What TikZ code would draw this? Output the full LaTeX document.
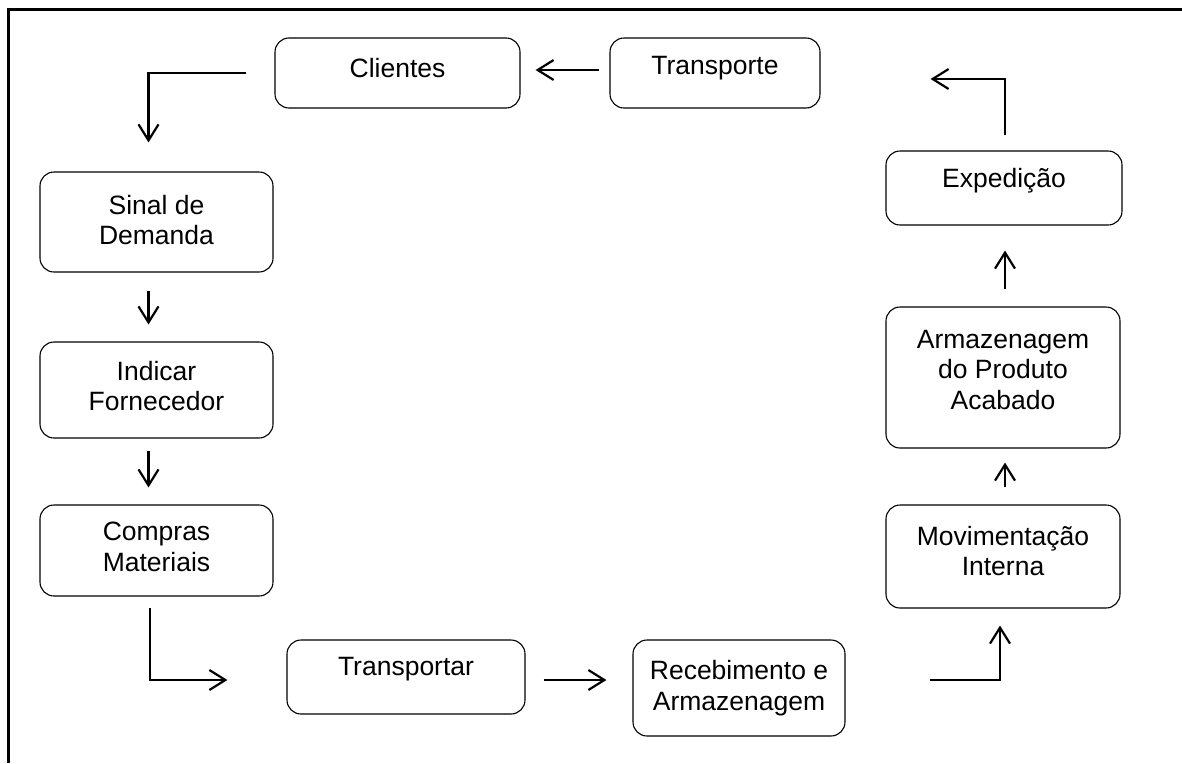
\documentclass[tikz,border=0pt]{standalone}
\usepackage{fontspec}
\setmainfont{Liberation Sans}
\usetikzlibrary{arrows.meta,calc}
\begin{document}
\begin{tikzpicture}[x=1pt,y=-1pt,
  box/.style={draw,line width=1.1pt,rounded corners=14pt,inner sep=0pt},
  txt/.style={align=center,inner sep=0pt,font=\fontsize{26.5}{30.5}\selectfont},
  arr/.style={line width=2.2pt,-{Straight Barb[length=16pt,width=20pt,line width=2.2pt]}}]
\useasboundingbox (0,0) rectangle (1182,763);
% frame
\draw[line width=3pt] (8,763) -- (8,9) -- (1182,9);
% boxes
\node[box,minimum width=245pt,minimum height=70pt] (cli) at (397.5,73) {};
\node[box,minimum width=210pt,minimum height=70pt] (tra) at (715,73) {};
\node[box,minimum width=233pt,minimum height=100pt] (sin) at (156.5,222) {};
\node[box,minimum width=233pt,minimum height=96pt] (ind) at (156.5,390) {};
\node[box,minimum width=233pt,minimum height=91pt] (com) at (156.5,550.5) {};
\node[box,minimum width=238pt,minimum height=74pt] (trp) at (406,677) {};
\node[box,minimum width=212pt,minimum height=96pt] (rec) at (739,688) {};
\node[box,minimum width=234pt,minimum height=103pt] (mov) at (1003,556.5) {};
\node[box,minimum width=234pt,minimum height=141pt] (arm) at (1003,377.5) {};
\node[box,minimum width=236pt,minimum height=74pt] (exp) at (1004,188) {};
% texts
\node[txt] (cliT) at (397.5,68) {Clientes};
\node[txt] (traT) at (715,68) {Transporte};
\node[txt] (sinT) at (156.5,220) {Sinal de\\Demanda};
\node[txt] (indT) at (156.5,386) {Indicar\\Fornecedor};
\node[txt] (comT) at (156.5,547) {Compras\\Materiais};
\node[txt] (trpT) at (406,669) {Transportar};
\node[txt] (recT) at (739,688) {Recebimento e\\Armazenagem};
\node[txt] (movT) at (1003,551) {Movimentação\\Interna};
\node[txt] (armT) at (1003,370) {Armazenagem\\do Produto\\Acabado};
\node[txt] (expT) at (1004,181) {Expedição};
% connectors
\draw[arr] ($(tra.west)+(-10,-3)$) -- ($(cli.east)+(15,-3)$);
\draw[arr] ($(cli.west)+(-28,0)$) -| ($(sin.north)+(-8,-29)$);
\draw[arr] ($(sin.south)+(-8,18)$) -- ($(ind.north)+(-8,-17)$);
\draw[arr] ($(ind.south)+(-8,12)$) -- ($(com.north)+(-8,-17)$);
\draw[arr] ($(com.south)+(-6.5,11)$) |- ($(trp.west)+(-59,3)$);
\draw[arr] ($(trp.east)+(18,3)$) -- ($(rec.west)+(-26,-8)$);
\draw[arr] ($(rec.east)+(84,-8)$) -| ($(mov.south)+(-3,17)$);
\draw[arr] ($(mov.north)+(2,-17)$) -- ($(arm.south)+(2,14)$);
\draw[arr] ($(arm.north)+(2,-17)$) -- ($(exp.south)+(1,25)$);
\draw[arr] ($(exp.north)+(1,-15)$) |- ($(tra.east)+(110,6)$);
\end{tikzpicture}
\end{document}
